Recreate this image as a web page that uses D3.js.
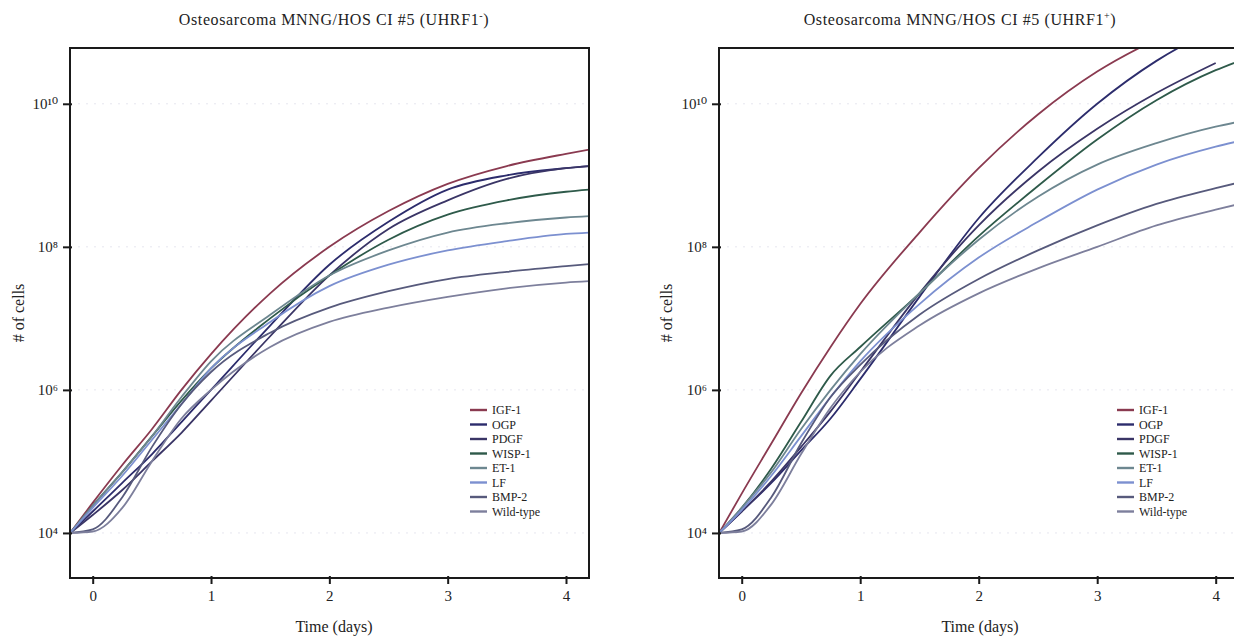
<!DOCTYPE html>
<html>
<head>
<meta charset="utf-8">
<script src="https://cdn.jsdelivr.net/npm/d3@7"></script>
<style>
  body { margin: 0; background: #fff; }
  svg { display: block; }
  text { font-family: "Liberation Serif", "DejaVu Serif", serif; fill: #222; }
</style>
</head>
<body>
<svg id="chart" width="1234" height="639"></svg>
<script>
// ---- data (log10 of # of cells) ----
const timePoints = [-0.19, 0, 0.25, 0.5, 0.75, 1, 1.5, 2, 2.5, 3, 3.5, 4, 4.2];
const seriesNames = ["IGF-1", "OGP", "PDGF", "WISP-1", "ET-1", "LF", "BMP-2", "Wild-type"];
const seriesColors = ["#8a3a50", "#2c2c6c", "#3a3566", "#2e5a4a", "#6d8790", "#7c90d0", "#575a7c", "#7d7f9c"];
const xTickValues = [0, 1, 2, 3, 4];
const yTickValues = [1e4, 1e6, 1e8, 1e10];
const titles = ["Osteosarcoma MNNG/HOS CI #5 (UHRF1", "Osteosarcoma MNNG/HOS CI #5 (UHRF1"];
const titleSup = ["-", "+"];

// UHRF1- panel
const igf1Minus     = [4, 4.42, 4.95, 5.45, 6.0, 6.5, 7.35, 8.0, 8.5, 8.88, 9.13, 9.3, 9.36];
const ogpMinus      = [4, 4.3, 4.7, 5.1, 5.55, 6.0, 6.9, 7.75, 8.35, 8.8, 9.0, 9.1, 9.13];
const pdgfMinus     = [4, 4.25, 4.6, 5.0, 5.4, 5.85, 6.75, 7.6, 8.25, 8.65, 8.95, 9.1, 9.13];
const wisp1Minus    = [4, 4.38, 4.85, 5.35, 5.85, 6.3, 7.0, 7.6, 8.1, 8.45, 8.65, 8.77, 8.8];
const et1Minus      = [4, 4.38, 4.85, 5.35, 5.9, 6.4, 7.05, 7.6, 7.95, 8.2, 8.33, 8.41, 8.43];
const lfMinus       = [4, 4.35, 4.8, 5.3, 5.8, 6.3, 6.95, 7.45, 7.75, 7.95, 8.08, 8.18, 8.2];
const bmp2Minus     = [4, 4.05, 4.5, 5.2, 5.8, 6.25, 6.8, 7.15, 7.38, 7.55, 7.65, 7.73, 7.76];
const wildTypeMinus = [4, 4.02, 4.35, 5.0, 5.6, 6.0, 6.6, 6.95, 7.15, 7.3, 7.42, 7.5, 7.52];

// UHRF1+ panel
const igf1Plus     = [4, 4.55, 5.25, 5.95, 6.6, 7.2, 8.2, 9.1, 9.85, 10.45, 10.9, 11.25, 11.35];
const ogpPlus      = [4, 4.3, 4.7, 5.15, 5.6, 6.15, 7.3, 8.4, 9.25, 10.0, 10.6, 11.05, 11.2];
const pdgfPlus     = [4, 4.3, 4.72, 5.2, 5.7, 6.25, 7.35, 8.3, 9.05, 9.65, 10.15, 10.57];
const wisp1Plus    = [4, 4.35, 4.9, 5.55, 6.2, 6.6, 7.35, 8.15, 8.85, 9.5, 10.05, 10.47, 10.6];
const et1Plus      = [4, 4.35, 4.85, 5.45, 6.0, 6.5, 7.35, 8.1, 8.7, 9.15, 9.45, 9.68, 9.75];
const lfPlus       = [4, 4.32, 4.8, 5.35, 5.9, 6.4, 7.2, 7.85, 8.35, 8.8, 9.15, 9.4, 9.48];
const bmp2Plus     = [4, 4.05, 4.5, 5.25, 5.9, 6.35, 7.05, 7.55, 7.95, 8.3, 8.6, 8.82, 8.9];
const wildTypePlus = [4, 4.02, 4.4, 5.1, 5.75, 6.25, 6.9, 7.35, 7.7, 8.0, 8.3, 8.52, 8.6];

const panelSeries = [
  [igf1Minus, ogpMinus, pdgfMinus, wisp1Minus, et1Minus, lfMinus, bmp2Minus, wildTypeMinus],
  [igf1Plus, ogpPlus, pdgfPlus, wisp1Plus, et1Plus, lfPlus, bmp2Plus, wildTypePlus]
];

// ---- layout ----
const svg = d3.select("#chart");
const panels = [
  { left: 70, right: 589, top: 48, bottom: 578, x0: 92.7, x4: 566 },
  { left: 719, right: 1239, top: 48, bottom: 578, x0: 741.7, x4: 1215.7 }
];
const supDigits = { "4": "\u2074", "6": "\u2076", "8": "\u2078", "10": "\u00b9\u2070" };

panels.forEach((p, pi) => {
  const pxPerDay = (p.x4 - p.x0) / 4;
  const x = d3.scaleLinear()
    .domain([(p.left - p.x0) / pxPerDay, (p.right - p.x0) / pxPerDay])
    .range([p.left, p.right]);
  const y = d3.scaleLog()
    .domain([Math.pow(10, 3.37), Math.pow(10, 10.78)])
    .range([p.bottom, p.top]);

  const g = svg.append("g");
  const clipId = "clip" + pi;
  g.append("clipPath").attr("id", clipId)
    .append("rect").attr("x", p.left).attr("y", p.top)
    .attr("width", p.right - p.left).attr("height", p.bottom - p.top);

  // faint dotted grid
  g.append("g").selectAll("line").data(yTickValues).join("line")
    .attr("x1", p.left).attr("x2", p.right)
    .attr("y1", d => y(d)).attr("y2", d => y(d))
    .attr("stroke", "#e6e6ef").attr("stroke-dasharray", "2,6").attr("stroke-width", 1);

  // curves
  const line = d3.line()
    .x(d => x(d[0])).y(d => y(d[1]))
    .curve(d3.curveMonotoneX);
  const curves = g.append("g").attr("clip-path", `url(#${clipId})`);
  panelSeries[pi].forEach((vals, si) => {
    const pts = vals.map((v, i) => [timePoints[i], Math.pow(10, v)]);
    curves.append("path")
      .attr("d", line(pts))
      .attr("fill", "none")
      .attr("stroke", seriesColors[si])
      .attr("stroke-width", 1.8);
  });

  // frame
  g.append("rect")
    .attr("x", p.left).attr("y", p.top)
    .attr("width", p.right - p.left).attr("height", p.bottom - p.top)
    .attr("fill", "none").attr("stroke", "#1a1a1a").attr("stroke-width", 2);

  // x axis
  const xAxis = d3.axisBottom(x).tickValues(xTickValues).tickSize(6).tickPadding(6)
    .tickFormat(d3.format("d"));
  const xg = g.append("g").attr("transform", `translate(0,${p.bottom})`).call(xAxis);
  xg.select(".domain").remove();
  xg.selectAll(".tick line").attr("stroke", "#1a1a1a").attr("stroke-width", 2).attr("y1", -2);
  xg.selectAll(".tick text").attr("font-size", 15).attr("fill", "#333")
    .attr("font-family", "'Liberation Serif', serif");

  // y axis
  const yAxis = d3.axisLeft(y).tickValues(yTickValues).tickSize(7).tickPadding(5)
    .tickFormat(d => "10" + supDigits[String(Math.round(Math.log10(d)))]);
  const yg = g.append("g").attr("transform", `translate(${p.left},0)`).call(yAxis);
  yg.select(".domain").remove();
  yg.selectAll(".tick line").attr("stroke", "#1a1a1a").attr("stroke-width", 2).attr("x1", 2);
  yg.selectAll(".tick text").attr("font-size", 15).attr("fill", "#333")
    .attr("font-family", "'Liberation Serif', serif");

  // title
  const t = g.append("text")
    .attr("x", pi === 0 ? 334 : 960).attr("y", 25)
    .attr("text-anchor", "middle").attr("font-size", 16).attr("letter-spacing", 0.6);
  t.append("tspan").text(titles[pi]);
  t.append("tspan").attr("dy", -6).attr("font-size", 10).text(titleSup[pi]);
  t.append("tspan").attr("dy", 6).text(")");

  // axis labels
  g.append("text")
    .attr("x", pi === 0 ? 334 : 980).attr("y", 632)
    .attr("text-anchor", "middle").attr("font-size", 16).text("Time (days)");
  g.append("text")
    .attr("transform", `translate(${pi === 0 ? 24 : 672},${313}) rotate(-90)`)
    .attr("text-anchor", "middle").attr("font-size", 16).text("# of cells");

  // legend
  const lx = pi === 0 ? 470 : 1117;
  const leg = g.append("g").attr("transform", `translate(${lx},410)`);
  seriesNames.forEach((name, i) => {
    const row = leg.append("g").attr("transform", `translate(0,${i * 14.5})`);
    row.append("line").attr("x1", 0).attr("x2", 17).attr("y1", 0).attr("y2", 0)
      .attr("stroke", seriesColors[i]).attr("stroke-width", 2.4);
    row.append("text").attr("x", 22).attr("y", 4).attr("font-size", 12).text(name);
  });
});
</script>
</body>
</html>
